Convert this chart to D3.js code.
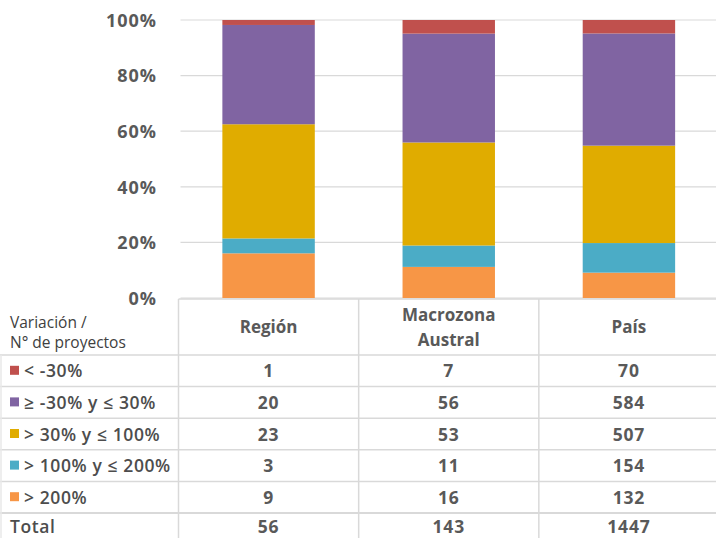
<!DOCTYPE html>
<html><head><meta charset="utf-8">
<script src="https://cdn.jsdelivr.net/npm/d3@7"></script>
<style>
html,body{margin:0;padding:0;background:#fff;}
svg{display:block;}
</style></head>
<body>
<svg id="c" width="716" height="538"></svg>
<script>
const categories = ["Región", "Macrozona Austral", "País"];
const categoryLines = [["Región"], ["Macrozona", "Austral"], ["País"]];
const seriesNames = ["< -30%", "≥ -30% y ≤ 30%", "> 30% y ≤ 100%", "> 100% y ≤ 200%", "> 200%"];
const seriesColors = ["#C0504D", "#8064A2", "#E0AC00", "#4BACC6", "#F79646"];
const valLess30 = [1, 7, 70];
const valMinus30to30 = [20, 56, 584];
const val30to100 = [23, 53, 507];
const val100to200 = [3, 11, 154];
const valOver200 = [9, 16, 132];
const yTicks = [0, 0.2, 0.4, 0.6, 0.8, 1];

const seriesValues = [valLess30, valMinus30to30, val30to100, val100to200, valOver200];
const rows = categories.map((c, i) => {
  const o = {cat: c};
  seriesNames.forEach((s, j) => o[s] = seriesValues[j][i]);
  return o;
});
const totals = categories.map((c, i) => d3.sum(seriesValues, v => v[i]));

const svg = d3.select("#c");
const W = 716;
const plotTop = 20, plotBottom = 298, plotLeft = 178.5;

const x = d3.scaleBand().domain(categories).range([plotLeft, 719]).paddingInner(0.487).paddingOuter(0.2435);
const y = d3.scaleLinear().domain([0, 1]).range([plotBottom, plotTop]);
const color = d3.scaleOrdinal().domain(seriesNames).range(seriesColors);

// gridlines
svg.append("g").selectAll("line").data(yTicks).join("line")
  .attr("x1", plotLeft + 2).attr("x2", W)
  .attr("y1", d => y(d)).attr("y2", d => y(d))
  .attr("stroke", "#d9d9d9").attr("stroke-width", 1.2);

// y axis labels
const yAxis = d3.axisLeft(y).tickValues(yTicks).tickFormat(d3.format(".0%")).tickSize(0).tickPadding(0);
const ya = svg.append("g").attr("transform", "translate(157,0)").call(yAxis);
ya.select(".domain").remove();
ya.selectAll("text").attr("font-family", "'Open Sans', sans-serif").attr("font-weight", 700)
  .attr("font-size", 18).attr("fill", "#595959").attr("letter-spacing", 1).attr("dy", "0.35em");

// stacked bars (bottom to top: > 200% ... < -30%)
const stackOrder = seriesNames.slice().reverse();
const stack = d3.stack().keys(stackOrder).offset(d3.stackOffsetExpand);
const stacked = stack(rows);
svg.append("g").selectAll("g").data(stacked).join("g")
  .attr("fill", d => color(d.key))
  .selectAll("rect").data(d => d).join("rect")
  .attr("x", d => x(d.data.cat))
  .attr("width", x.bandwidth())
  .attr("y", d => y(d[1]))
  .attr("height", d => y(d[0]) - y(d[1]));

// data table
const step = x.step();
const colEdges = [plotLeft, plotLeft + step, plotLeft + 2 * step];
const headerTop = 299, headerBottom = 355, rowH = 31.6;
const lineColor = "#d9d9d9";
const t = svg.append("g");
const rowLines = d3.range(0, 6).map(i => headerBottom + i * rowH);
t.selectAll("line.h").data(rowLines).join("line").attr("class", "h")
  .attr("x1", 0).attr("x2", W).attr("y1", d => d).attr("y2", d => d)
  .attr("stroke", lineColor).attr("stroke-width", (d, i) => i === 5 ? 2.2 : 1.5);
t.append("line").attr("x1", plotLeft).attr("x2", W).attr("y1", headerTop).attr("y2", headerTop)
  .attr("stroke", lineColor).attr("stroke-width", 1.5);
t.selectAll("line.v").data(colEdges).join("line").attr("class", "v")
  .attr("x1", d => d).attr("x2", d => d).attr("y1", headerTop).attr("y2", 538)
  .attr("stroke", lineColor).attr("stroke-width", 1.5);
t.append("line").attr("x1", 1).attr("x2", 1).attr("y1", headerBottom).attr("y2", 538)
  .attr("stroke", "#e8e8e8").attr("stroke-width", 1.5);

const font = "'Open Sans', sans-serif";
// header left
t.append("text").attr("x", 10).attr("y", 328).text("Variación /")
  .attr("font-family", font).attr("font-size", 15.5).attr("fill", "#404040");
t.append("text").attr("x", 10).attr("y", 348).text("N° de proyectos")
  .attr("font-family", font).attr("font-size", 15.5).attr("fill", "#404040");
// header categories
categoryLines.forEach((lines, i) => {
  const cx = x(categories[i]) + x.bandwidth() / 2;
  const n = lines.length;
  lines.forEach((ln, k) => {
    t.append("text").attr("x", cx).attr("y", 333 + (k - (n - 1) / 2) * 25)
      .attr("text-anchor", "middle").text(ln)
      .attr("font-family", font).attr("font-weight", 700).attr("font-size", 17)
      .attr("fill", "#595959");
  });
});
// series rows
seriesNames.forEach((s, j) => {
  const cy = headerBottom + j * rowH + rowH / 2;
  t.append("rect").attr("x", 10).attr("y", cy - 5).attr("width", 9).attr("height", 9).attr("fill", color(s));
  t.append("text").attr("x", 24).attr("y", cy + 6.5).text(s)
    .attr("font-family", font).attr("font-weight", 600).attr("font-size", 17.5)
    .attr("fill", "#4d4d4d").attr("letter-spacing", 0.6);
  categories.forEach((c, i) => {
    t.append("text").attr("x", x(c) + x.bandwidth() / 2).attr("y", cy + 6.5)
      .attr("text-anchor", "middle").text(seriesValues[j][i])
      .attr("font-family", font).attr("font-weight", 700).attr("font-size", 17.5)
      .attr("fill", "#595959").attr("letter-spacing", 0.8);
  });
});
// total row
const ty = headerBottom + 5 * rowH + rowH / 2;
t.append("text").attr("x", 10).attr("y", ty + 4).text("Total")
  .attr("font-family", font).attr("font-weight", 600).attr("font-size", 17.5).attr("fill", "#4d4d4d").attr("letter-spacing", 0.6);
categories.forEach((c, i) => {
  t.append("text").attr("x", x(c) + x.bandwidth() / 2).attr("y", ty + 4)
    .attr("text-anchor", "middle").text(totals[i])
    .attr("font-family", font).attr("font-weight", 700).attr("font-size", 17.5)
    .attr("fill", "#595959").attr("letter-spacing", 0.8);
});
</script>
</body></html>
